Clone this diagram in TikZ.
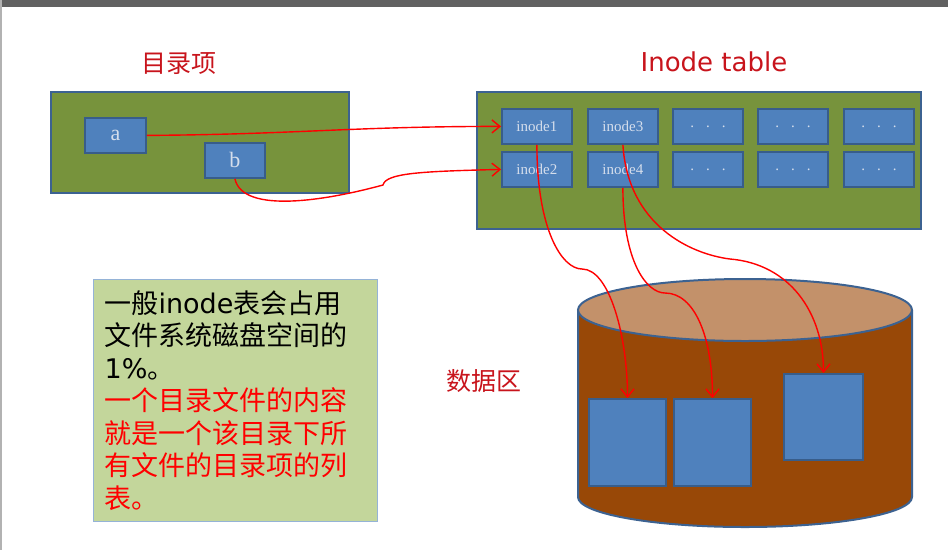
\documentclass[tikz,border=0pt]{standalone}
\usepackage{fontspec}
\setmainfont{Liberation Serif}
\newfontfamily\cjk{Noto Sans CJK SC}
\newfontfamily\lat{DejaVu Sans}
\usetikzlibrary{arrows.meta}

\definecolor{dirgreen}{HTML}{77933C}
\definecolor{panelline}{HTML}{3C6291}
\definecolor{cellblue}{HTML}{4F81BD}
\definecolor{cellline}{HTML}{385D8A}
\definecolor{celltext}{HTML}{D5DEEC}
\definecolor{notegreen}{HTML}{C3D69B}
\definecolor{noteline}{HTML}{95B3D7}
\definecolor{titlered}{HTML}{C8141C}
\definecolor{cylbody}{HTML}{984807}
\definecolor{cyltop}{HTML}{C3916A}

\begin{document}
\begin{tikzpicture}[
            x = 1pt, y = -1pt,
            > = {Straight Barb[length=8pt, width=13pt]},
            panel/.style = {draw=panelline, line width=2pt, fill=dirgreen, anchor=north west, inner sep=0pt},
            cell/.style = {draw=cellline, line width=1.8pt, fill=cellblue, anchor=north west, inner sep=0pt,
                           minimum width=70pt, minimum height=35pt, text=celltext, font=\fontsize{15}{15}\selectfont},
            blk/.style = {draw=cellline, line width=2pt, fill=cellblue, anchor=north west, inner sep=0pt},
            title/.style = {text=titlered, font=\cjk\fontsize{25}{25}\selectfont},
            link/.style = {draw=red, line width=1.4pt, ->}
        ]
            \useasboundingbox (0,0) rectangle (948,550);
            \fill[black!62] (0,0) rectangle (948,7);
            \fill[black!30] (0,0) rectangle (1.5,550);

            % Titles
            \node[title] (dirtitle) at (179,64) {目录项};
            \node[title, font=\lat\fontsize{26}{26}\selectfont] (inotitle) at (714,62) {Inode table};
            \node[title] (datatitle) at (484,381) {数据区};

            % Directory entries
            \node[panel, minimum width=298pt, minimum height=101pt] (dir) at (50,91) {};
            \node[cell, minimum width=61pt, font=\fontsize{22}{22}\selectfont] (a) at (84,117) {a};
            \node[cell, minimum width=60pt, font=\fontsize{22}{22}\selectfont] (b) at (204,142) {b};

            % Inode table
            \node[panel, minimum width=444pt, minimum height=137pt] (tab) at (476,91) {};
            \node[cell] (n1) at (501,108) {inode1};
            \node[cell] (n2) at (501,151) {inode2};
            \node[cell] (n3) at (587,108) {inode3};
            \node[cell] (n4) at (587,151) {inode4};
            \foreach \x [count=\i] in {672,757,843} {
                \node[cell] (u\i) at (\x,108) {.\hspace{12pt}.\hspace{12pt}.};
                \node[cell] (v\i) at (\x,151) {.\hspace{12pt}.\hspace{12pt}.};
            }

            % Note
            \node[draw=noteline, line width=1.2pt, fill=notegreen, anchor=north west, minimum height=242pt,
                  text width=262pt, inner xsep=11pt, inner ysep=0pt, align=left,
                  font=\cjk\fontsize{27}{32.5}\selectfont] (note) at (93,279)
                {一般{\lat inode}表会占用\\文件系统磁盘空间的\\{\lat 1\%}。\\
                 \textcolor{red}{一个目录文件的内容}\\\textcolor{red}{就是一个该目录下所}\\
                 \textcolor{red}{有文件的目录项的列}\\\textcolor{red}{表。}};

            % Data area
            \fill[cylbody] (578,310) -- (578,497) arc[start angle=180, end angle=0, x radius=167, y radius=30]
                -- (912,310) -- cycle;
            \draw[panelline, line width=2pt] (578,310) -- (578,497)
                arc[start angle=180, end angle=0, x radius=167, y radius=30] -- (912,310);
            \draw[panelline, line width=2pt, fill=cyltop] (745,310) ellipse [x radius=167, y radius=31];
            \node[blk, minimum width=77pt, minimum height=87pt] (blk1) at (588,398) {};
            \node[blk, minimum width=77pt, minimum height=87pt] (blk2) at (673,398) {};
            \node[blk, minimum width=79pt, minimum height=86pt] (blk3) at (783,373) {};

            % Links
            \coordinate (bk) at (383,185);
            \coordinate (k1) at (582,269);
            \coordinate (k4) at (665,293);
            \coordinate (k3) at (730,259);
            \draw[link] (a.east) .. controls +(150,-1) and +(-150,0) .. (n1.west);
            \draw[link] (b.south) .. controls +(8,36) and +(-55,15) .. (bk)
                .. controls +(3,-12) and +(-80,2) .. (n2.west);
            \draw[link] (n1.south) .. controls +(0,85) and +(-20,0) .. (k1)
                .. controls +(28,0) and +(0,-60) .. (blk1.north);
            \draw[link] (n4.south) .. controls +(0,75) and +(-18,0) .. (k4)
                .. controls +(30,0) and +(0,-60) .. (blk2.north);
            \draw[link] (n3.south) .. controls +(5,80) and +(-40,-5) .. (k3)
                .. controls +(60,5) and +(0,-60) .. (blk3.north);

        \end{tikzpicture}
\end{document}
